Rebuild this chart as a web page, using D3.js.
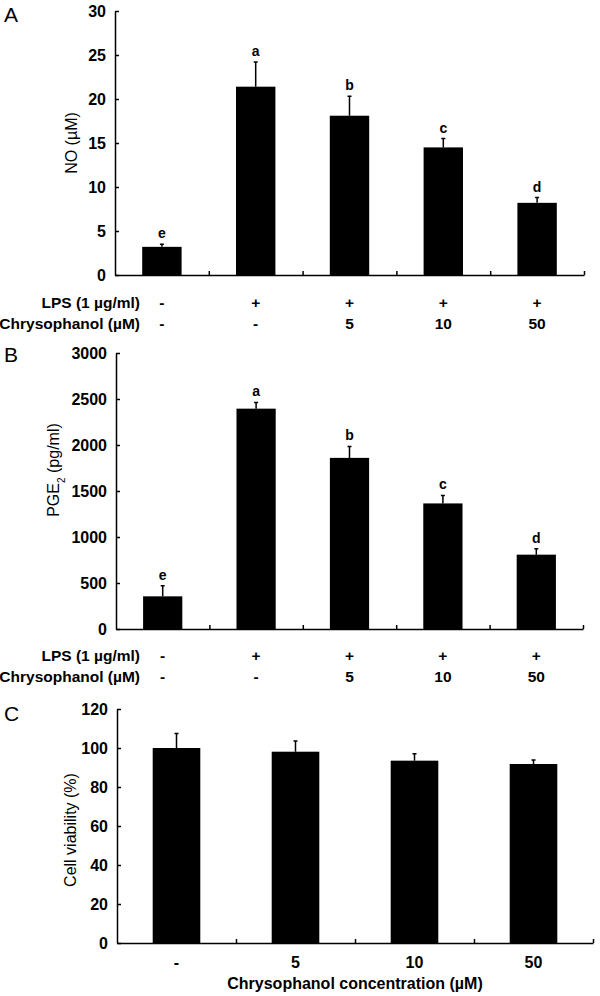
<!DOCTYPE html>
<html>
<head>
<meta charset="utf-8">
<script src="https://cdn.jsdelivr.net/npm/d3@7"></script>
<style>
  body { margin: 0; background: #fff; }
  svg { display: block; font-family: "Liberation Sans", Arial, sans-serif; }
  .axis path, .axis line { stroke: #000; stroke-width: 1.5px; }
  .axis text { font-family: "Liberation Sans", Arial, sans-serif; font-size: 16px; font-weight: bold; fill: #000; }
</style>
</head>
<body>
<div id="chart"></div>
<script>
// panel A: NO production
const noMean = [3.2, 21.4, 18.1, 14.5, 8.2];
const noErr = [0.3, 2.8, 2.2, 1.0, 0.6];
const noLetters = ["e", "a", "b", "c", "d"];
const noTicks = [0, 5, 10, 15, 20, 25, 30];

// panel B: PGE2 production
const pgeMean = [355, 2395, 1860, 1365, 808];
const pgeErr = [115, 68, 125, 87, 65];
const pgeLetters = ["e", "a", "b", "c", "d"];
const pgeTicks = [0, 500, 1000, 1500, 2000, 2500, 3000];

// treatment rows under A and B
const lpsRow = ["-", "+", "+", "+", "+"];
const chrysoRow = ["-", "-", "5", "10", "50"];

// panel C: cell viability
const viabilityConc = ["-", "5", "10", "50"];
const viabilityMean = [100, 98.1, 93.5, 91.8];
const viabilityErr = [7.4, 5.5, 3.6, 2.1];
const viabilityTicks = [0, 20, 40, 60, 80, 100, 120];

const svg = d3.select("#chart").append("svg")
    .attr("width", 600)
    .attr("height", 996);

function drawPanel(o){
    const n = o.mean.length;
    const idx = d3.range(n);
    const g = svg.append("g");

    const x = d3.scaleBand()
        .domain(idx)
        .range([o.left, o.right])
        .paddingInner(o.pad)
        .paddingOuter(o.pad / 2);
    const y = d3.scaleLinear()
        .domain([0, d3.max(o.ticks)])
        .range([o.bottom, o.top]);
    const xb = d3.scaleLinear().domain([0, n]).range([o.left, o.right]);

    // bars
    g.selectAll(".bar")
        .data(idx)
        .enter().append("rect")
        .attr("class", "bar")
        .attr("x", i => x(i))
        .attr("width", x.bandwidth())
        .attr("y", i => y(o.mean[i]))
        .attr("height", i => o.bottom - y(o.mean[i]))
        .attr("fill", "#000");

    // upper error bars with small caps
    const cx = i => x(i) + x.bandwidth() / 2;
    g.selectAll(".err")
        .data(idx)
        .enter().append("path")
        .attr("class", "err")
        .attr("d", i => {
            const t = y(o.mean[i] + o.err[i]);
            return "M" + cx(i) + "," + y(o.mean[i]) + "V" + t + "M" + (cx(i) - 2) + "," + t + "H" + (cx(i) + 2);
        })
        .attr("stroke", "#000")
        .attr("stroke-width", 1.5)
        .attr("fill", "none");

    if (o.letters) {
        g.selectAll(".sig")
            .data(idx)
            .enter().append("text")
            .attr("x", cx)
            .attr("y", i => y(o.mean[i] + o.err[i]) - 6)
            .attr("text-anchor", "middle")
            .style("font-size", "14px")
            .style("font-weight", "bold")
            .text(i => o.letters[i]);
    }

    // x axis: ticks between groups, pointing up
    g.append("g")
        .attr("class", "axis")
        .attr("transform", "translate(0," + o.bottom + ")")
        .call(d3.axisBottom(xb).tickValues(d3.range(1, n + 1)).tickSizeInner(-4).tickSizeOuter(0).tickFormat(""));

    // y axis: ticks pointing inside
    g.append("g")
        .attr("class", "axis")
        .attr("transform", "translate(" + o.left + ",0)")
        .call(d3.axisLeft(y).tickValues(o.ticks).tickSizeInner(-4).tickSizeOuter(0).tickPadding(9).tickFormat(d3.format("d")));

    // y title
    const yt = g.append("text")
        .attr("transform", "translate(" + o.titleX + "," + o.titleY + ") rotate(-90)")
        .attr("text-anchor", "middle")
        .style("font-size", "16px");
    o.title(yt);

    // panel letter
    g.append("text")
        .attr("x", 4)
        .attr("y", o.letterY)
        .style("font-size", "21px")
        .text(o.letter);

    return {x: x, cx: cx};
}

function treatmentRows(p, rowY){
    const rows = [["LPS (1 \u00b5g/ml)", lpsRow], ["Chrysophanol (\u00b5M)", chrysoRow]];
    rows.forEach((r, k) => {
        svg.append("text")
            .attr("x", 140)
            .attr("y", rowY[k])
            .attr("text-anchor", "end")
            .style("font-size", "15.5px")
            .style("font-weight", "bold")
            .text(r[0]);
        svg.selectAll(null)
            .data(r[1])
            .enter().append("text")
            .attr("x", (d, i) => p.cx(i))
            .attr("y", rowY[k])
            .attr("text-anchor", "middle")
            .style("font-size", "15.5px")
            .style("font-weight", "bold")
            .text(d => d);
    });
}

const pA = drawPanel({
    mean: noMean, err: noErr, letters: noLetters, ticks: noTicks,
    left: 115, right: 584, top: 11, bottom: 275, pad: 0.58,
    titleX: 77, titleY: 143, letter: "A", letterY: 22,
    title: t => t.text("NO (\u00b5M)")
});
treatmentRows(pA, [308, 329]);

const pB = drawPanel({
    mean: pgeMean, err: pgeErr, letters: pgeLetters, ticks: pgeTicks,
    left: 116, right: 583, top: 353, bottom: 629, pad: 0.58,
    titleX: 59, titleY: 470, letter: "B", letterY: 362,
    title: t => {
        t.append("tspan").text("PGE");
        t.append("tspan").attr("baseline-shift", "sub").style("font-size", "10px").text("2");
        t.append("tspan").text(" (pg/ml)");
    }
});
treatmentRows(pB, [661, 682]);

const pC = drawPanel({
    mean: viabilityMean, err: viabilityErr, letters: null, ticks: viabilityTicks,
    left: 117, right: 593, top: 709, bottom: 943, pad: 0.6,
    titleX: 76, titleY: 830, letter: "C", letterY: 721,
    title: t => t.text("Cell viability (%)")
});

svg.selectAll(".conc")
    .data(viabilityConc)
    .enter().append("text")
    .attr("x", (d, i) => pC.cx(i))
    .attr("y", 968)
    .attr("text-anchor", "middle")
    .style("font-size", "16px")
    .style("font-weight", "bold")
    .text(d => d);

svg.append("text")
    .attr("x", 355)
    .attr("y", 989)
    .attr("text-anchor", "middle")
    .style("font-size", "16px")
    .style("font-weight", "bold")
    .text("Chrysophanol concentration (\u00b5M)");
</script>
</body>
</html>
